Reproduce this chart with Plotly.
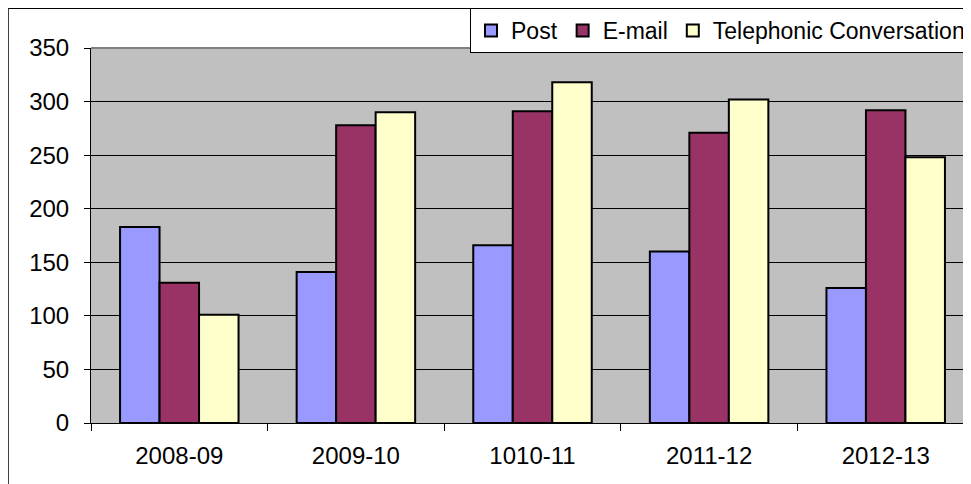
import plotly.graph_objects as go

categories = ["2008-09", "2009-10", "1010-11", "2011-12", "2012-13"]
post = [183, 141, 166, 160, 126]
email = [131, 278, 291, 271, 292]
telephonic = [101, 290, 318, 302, 248]
y_ticks = [0, 50, 100, 150, 200, 250, 300, 350]

# the page body adds an 8px offset, so the figure is 8px smaller
W, H = 963, 476
L, R, T, B = 83, 0, 40, 61
PW, PH = W - L - R, H - T - B

FONT = "Liberation Sans, Arial, sans-serif"

fig = go.Figure()
for name, vals, col in [("Post", post, "#9999FF"),
                        ("E-mail", email, "#993366"),
                        ("Telephonic Conversation", telephonic, "#FFFFCC")]:
    fig.add_trace(go.Bar(name=name, x=categories, y=vals,
                         marker=dict(color=col, line=dict(color="black", width=2))))

cat_px = 176.6
span = PW / cat_px

def px_x(p):
    return (p - L) / PW

def px_y(p):
    return (H - B - p) / PH

fig.update_layout(
    width=W, height=H,
    margin=dict(l=L, r=R, t=T, b=B, pad=0),
    paper_bgcolor="white",
    plot_bgcolor="#C0C0C0",
    barmode="group", bargap=0.329, bargroupgap=0,
    font=dict(family=FONT, size=24, color="black"),
    showlegend=True,
    legend=dict(orientation="h", x=1.0, xanchor="right", y=px_y(0), yanchor="top",
                bgcolor="white", bordercolor="black", borderwidth=1,
                font=dict(family=FONT, size=23, color="black"),
                itemwidth=30, tracegroupgap=0),
    xaxis=dict(range=[-0.5, -0.5 + span], type="category", showgrid=False,
               showline=True, linecolor="black", linewidth=1,
               ticks="outside", ticklen=7, tickcolor="black", tickson="boundaries",
               ticklabelstandoff=11,
               tickfont=dict(family=FONT, size=24, color="black"), fixedrange=True),
    yaxis=dict(range=[0, 350], tickvals=y_ticks, showgrid=True, gridcolor="black",
               gridwidth=1, zeroline=False, showline=True, linecolor="black", linewidth=1,
               ticks="outside", ticklen=6, tickcolor="black", ticklabelstandoff=10,
               tickfont=dict(family=FONT, size=24, color="black"), fixedrange=True),
    shapes=[
        dict(type="line", xref="paper", yref="paper", x0=0, x1=1, y0=1, y1=1,
             line=dict(color="#808080", width=2), layer="above"),
        dict(type="line", xref="paper", yref="paper", x0=px_x(0), x1=px_x(W + 5),
             y0=px_y(0.5), y1=px_y(0.5), line=dict(color="black", width=1)),
        dict(type="line", xref="paper", yref="paper", x0=px_x(0), x1=px_x(0),
             y0=px_y(0.5), y1=px_y(H + 5), line=dict(color="#404040", width=2)),
    ],
)

fig.write_html("out.html")
